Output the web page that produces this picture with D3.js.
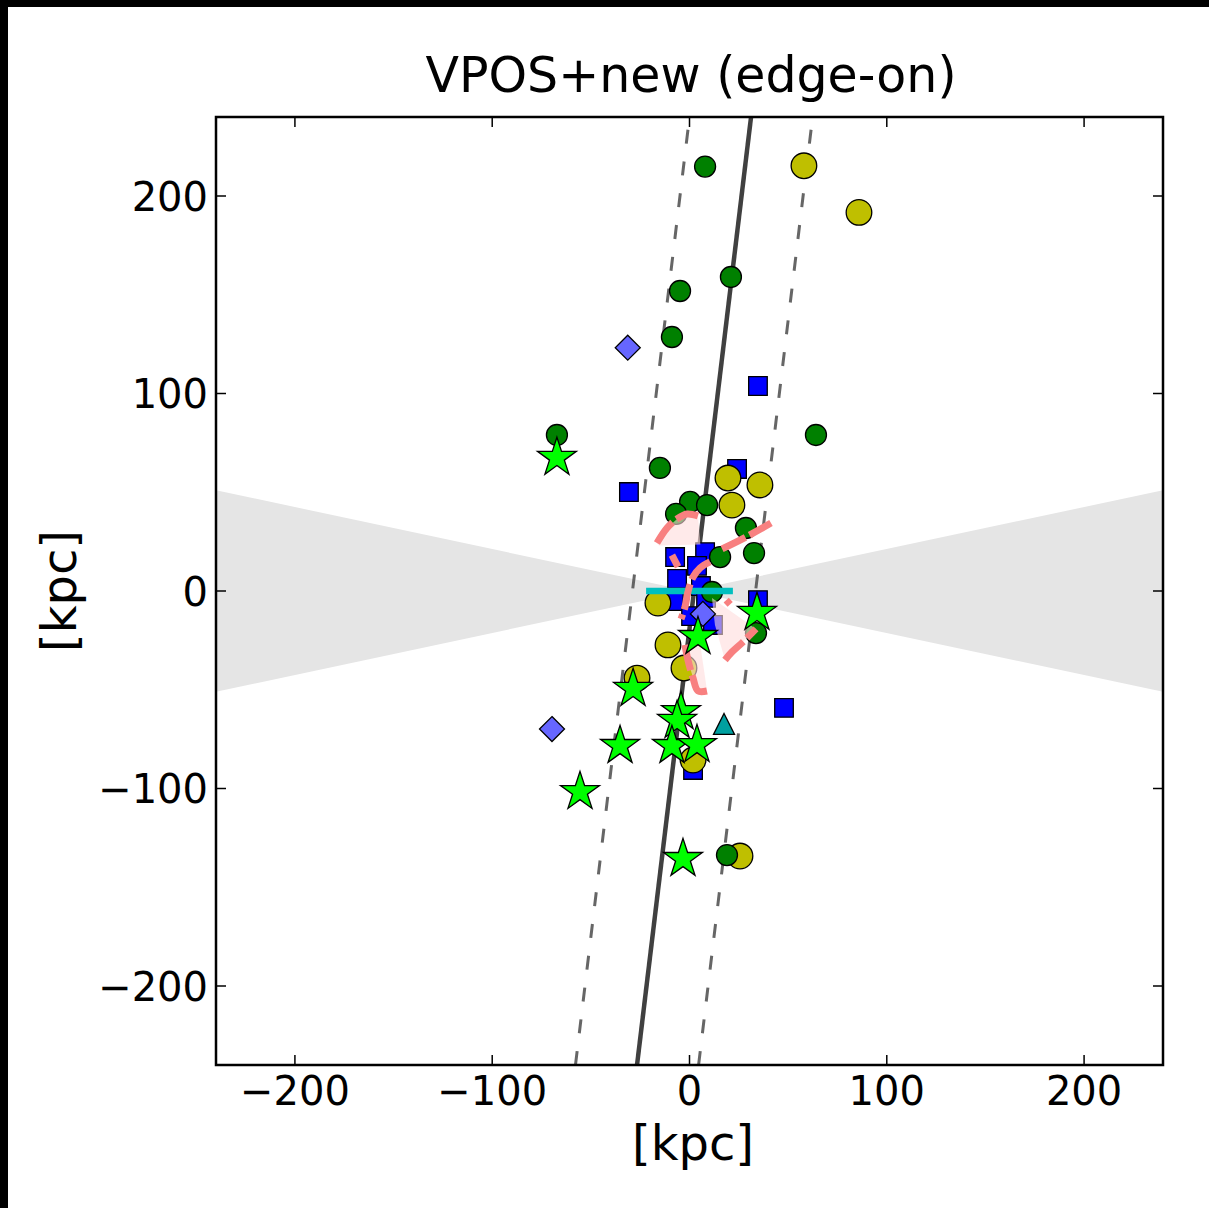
<!DOCTYPE html>
<html>
<head>
<meta charset="utf-8">
<script src="https://cdn.jsdelivr.net/npm/d3@7"></script>
<style>
  html, body { margin: 0; padding: 0; background: #fff; }
  svg { display: block; font-family: "DejaVu Sans", sans-serif; }
</style>
</head>
<body>
<svg id="chart" width="1209" height="1208"></svg>
<script>
// ---- data (kpc) ----
const tickValues = [-200, -100, 0, 100, 200];
const axisDomain = [-240, 240];

// best-fit plane seen edge-on: x = offset + slope * y, dashed lines at +/- width
const planeOffset = 2.3;
const planeSlope = 0.1204;
const planeWidth = 31.2;
// obscured wedge half-opening angle (degrees)
const wedgeAngle = 12;
// disk segment at the origin
const diskX = [-22, 22];

const greenCircles = [
  [7.9, 214.9], [21.0, 159.0], [-4.8, 151.9], [-8.9, 128.6], [-67.2, 79.0],
  [64.1, 79.0], [-15.0, 62.3], [0.3, 45.1], [8.9, 43.5], [-6.8, 39.0],
  [28.6, 31.9], [32.7, 19.2], [15.5, 17.2], [11.4, -0.5], [33.7, -21.3],
  [19.0, -133.7]
];
const yellowCircles = [
  [58.0, 215.3], [85.9, 191.7], [19.5, 57.2], [35.7, 53.7], [21.5, 43.5],
  [-16.0, -6.1], [-10.9, -27.3], [-2.8, -39.0], [-26.6, -44.1], [1.8, -85.6],
  [25.6, -134.2]
];
const blueSquares = [
  [34.7, 103.8], [-30.7, 50.1], [24.1, 61.8], [-7.3, 17.2], [7.9, 19.7],
  [3.8, 12.7], [-6.3, 6.1], [5.8, 2.5], [-7.9, -5.1], [8.4, -3.5],
  [0.8, -12.7], [11.9, -17.2], [34.7, -4.6], [47.9, -59.2], [1.8, -90.6]
];
const diamonds = [[-31.3, 123.2], [-69.7, -69.9], [6.8, -11.6]];
const triangles = [[17.5, -67.3]];
const stars = [
  [-67.2, 67.5], [34.2, -11.0], [4.3, -23.2], [-28.6, -49.5], [-4.3, -61.2],
  [-6.3, -65.7], [-35.2, -78.4], [-8.9, -78.4], [3.8, -77.9], [-55.5, -101.7],
  [-3.3, -135.6]
];

// orbit tracks with their uncertainty cones
const orbitTracks = [
  [[-16.5, 24.3], [-11.4, 31.9], [-6.3, 36.5], [-1.3, 39.0], [4.3, 38.0]],
  [[16.5, 21.3], [28.6, 27.3], [41.3, 34.4]],
  [[10.4, 14.7], [5.3, 11.6], [1.8, 7.1], [-0.8, -0.5], [-2.3, -8.1], [-4.3, -14.2]],
  [[-8.9, 18.2], [-5.8, 12.2]],
  [[-2.3, -27.3], [-0.8, -34.9], [1.8, -44.1], [4.3, -50.6], [8.9, -50.6]],
  [[18.0, -34.9], [21.5, -30.9], [27.1, -25.8], [33.7, -19.2]],
  [[18.6, -4.6], [20.6, -6.8]]
];
const orbitCones = [
  [[-16.5, 24.3], [-11.4, 31.9], [-6.3, 36.5], [-1.3, 39.0], [4.3, 38.0], [5.5, 23.5], [-15.5, 23.0]],
  [[-2.3, -27.3], [-0.8, -34.9], [1.8, -44.1], [4.3, -50.6], [8.9, -50.6], [5.5, -27.5]],
  [[11.4, -3.5], [33.7, -19.2], [27.1, -25.8], [21.5, -30.9], [18.0, -34.9], [12.9, -17.2]]
];

// ---- layout ----
const svg = d3.select("#chart");
const W = 1209, H = 1208;
const plot = { left: 216, right: 1163, top: 117, bottom: 1065 };

const x = d3.scaleLinear().domain(axisDomain).range([plot.left, plot.right]);
const y = d3.scaleLinear().domain(axisDomain).range([plot.bottom, plot.top]);

svg.append("rect").attr("width", W).attr("height", H).attr("fill", "#fff");
// dark frame along the top and left edges
svg.append("rect").attr("x", 0).attr("y", 0).attr("width", W).attr("height", 7).attr("fill", "#000");
svg.append("rect").attr("x", 0).attr("y", 0).attr("width", 8).attr("height", H).attr("fill", "#000");

svg.append("defs").append("clipPath").attr("id", "clip")
  .append("rect")
  .attr("x", plot.left).attr("y", plot.top)
  .attr("width", plot.right - plot.left).attr("height", plot.bottom - plot.top);

const g = svg.append("g").attr("clip-path", "url(#clip)");

// obscured wedge
const t = Math.tan(wedgeAngle * Math.PI / 180);
const wedgeL = [[0, 0], [axisDomain[0], -axisDomain[0] * t], [axisDomain[0], axisDomain[0] * t]];
const wedgeR = [[0, 0], [axisDomain[1], axisDomain[1] * t], [axisDomain[1], -axisDomain[1] * t]];
const poly = d3.line().x(d => x(d[0])).y(d => y(d[1]));
[wedgeL, wedgeR].forEach(w => {
  g.append("path").attr("d", poly(w) + "Z").attr("fill", "#e5e5e5");
});

// plane lines
const yEnds = [axisDomain[0], axisDomain[1]];
const planeLine = off => yEnds.map(v => [planeOffset + off + planeSlope * v, v]);
[-planeWidth, planeWidth].forEach(off => {
  g.append("path").attr("d", poly(planeLine(off)))
    .attr("fill", "none").attr("stroke", "#555").attr("stroke-width", 3)
    .attr("stroke-dasharray", "14,18").attr("stroke-opacity", 0.9);
});
g.append("path").attr("d", poly(planeLine(0)))
  .attr("fill", "none").attr("stroke", "#404040").attr("stroke-width", 4.5);

// markers
function markers(data, shape, fill) {
  g.append("g").selectAll("path").data(data).join("path")
    .attr("transform", d => `translate(${x(d[0])},${y(d[1])})`)
    .attr("d", shape)
    .attr("fill", fill)
    .attr("stroke", "#000")
    .attr("stroke-width", 1.3);
}
const circle = r => `M${r},0A${r},${r} 0 1,1 ${-r},0A${r},${r} 0 1,1 ${r},0Z`;
const square = s => `M${-s},${-s}H${s}V${s}H${-s}Z`;
const diamond = s => `M0,${-s}L${s},0L0,${s}L${-s},0Z`;
const triangle = s => `M0,${-s}L${s},${s}L${-s},${s}Z`;

markers(blueSquares, square(9.3), "#0000ff");
markers(yellowCircles, circle(12.8), "#bfbf00");
markers(greenCircles, circle(10.5), "#008000");

// disk segment
g.append("path")
  .attr("d", poly(diskX.map(v => [v, 0])))
  .attr("stroke", "#00bfbf").attr("stroke-width", 6.5).attr("fill", "none");

// orbit cones and tracks
g.append("g").selectAll("path").data(orbitCones).join("path")
  .attr("d", d => poly(d) + "Z")
  .attr("fill", "#ffdcdc").attr("fill-opacity", 0.6).attr("stroke", "none");
const curve = d3.line().x(d => x(d[0])).y(d => y(d[1])).curve(d3.curveCatmullRom);
g.append("g").selectAll("path").data(orbitTracks).join("path")
  .attr("d", curve)
  .attr("fill", "none").attr("stroke", "#f88080").attr("stroke-width", 7)
  .attr("stroke-dasharray", "26,5");

markers(diamonds, diamond(12.5), "#6666ff");
markers(triangles, triangle(10.5), "#00a0a0");
markers(stars, d3.symbol(d3.symbolStar, 470)(), "#00ff00");

// ---- axes ----
const axG = svg.append("g");
axG.append("rect")
  .attr("x", plot.left).attr("y", plot.top)
  .attr("width", plot.right - plot.left).attr("height", plot.bottom - plot.top)
  .attr("fill", "none").attr("stroke", "#000").attr("stroke-width", 2.5);

const tickLen = 10;
tickValues.forEach(v => {
  const xv = x(v), yv = y(v);
  axG.append("line").attr("x1", xv).attr("x2", xv).attr("y1", plot.bottom).attr("y2", plot.bottom - tickLen);
  axG.append("line").attr("x1", xv).attr("x2", xv).attr("y1", plot.top).attr("y2", plot.top + tickLen);
  axG.append("line").attr("y1", yv).attr("y2", yv).attr("x1", plot.left).attr("x2", plot.left + tickLen);
  axG.append("line").attr("y1", yv).attr("y2", yv).attr("x1", plot.right).attr("x2", plot.right - tickLen);
});
axG.selectAll("line").attr("stroke", "#000").attr("stroke-width", 1.5);

const fmt = v => (v < 0 ? "\u2212" : "") + Math.abs(v);
axG.selectAll("text.xt").data(tickValues).join("text").attr("class", "xt")
  .attr("x", d => x(d)).attr("y", 1105)
  .attr("text-anchor", "middle").attr("font-size", 40).text(fmt);
axG.selectAll("text.yt").data(tickValues).join("text").attr("class", "yt")
  .attr("x", 208).attr("y", d => y(d) + 14.5)
  .attr("text-anchor", "end").attr("font-size", 40).text(fmt);

svg.append("text").attr("x", 693).attr("y", 1160)
  .attr("text-anchor", "middle").attr("font-size", 48).text("[kpc]");
svg.append("text")
  .attr("transform", `translate(76,${(plot.top + plot.bottom) / 2}) rotate(-90)`)
  .attr("text-anchor", "middle").attr("font-size", 48).text("[kpc]");
svg.append("text").attr("x", 691).attr("y", 92)
  .attr("text-anchor", "middle").attr("font-size", 49).text("VPOS+new (edge-on)");
</script>
</body>
</html>
